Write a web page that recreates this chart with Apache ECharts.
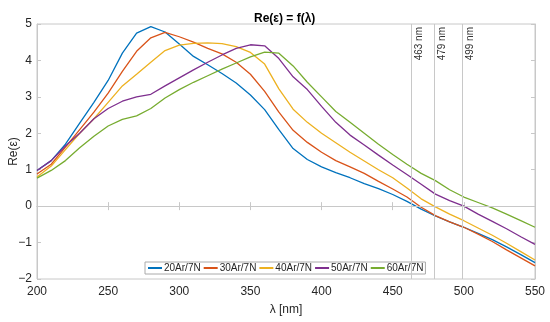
<!DOCTYPE html>
<html>
<head>
<meta charset="utf-8">
<script src="https://cdn.jsdelivr.net/npm/echarts@6/dist/echarts.min.js"></script>
<style>
html,body{margin:0;padding:0;background:#fff;}
#c{width:550px;height:322px;}
</style>
</head>
<body>
<div id="c"></div>
<script>
const wavelengths = [200,210,220,230,240,250,260,270,280,290,300,310,320,330,340,350,360,370,380,390,400,410,420,430,440,450,460,470,480,490,500,510,520,530,540,550];
const seriesNames = ['20Ar/7N','30Ar/7N','40Ar/7N','50Ar/7N','60Ar/7N'];
const ar20 = [0.98,1.25,1.7,2.28,2.85,3.45,4.2,4.75,4.93,4.78,4.45,4.11,3.88,3.64,3.38,3.05,2.65,2.1,1.58,1.28,1.08,0.92,0.78,0.62,0.48,0.32,0.13,-0.08,-0.27,-0.43,-0.58,-0.75,-0.92,-1.12,-1.33,-1.55];
const ar30 = [0.88,1.15,1.62,2.1,2.58,3.1,3.7,4.25,4.62,4.77,4.65,4.5,4.33,4.18,3.95,3.62,3.15,2.58,2.08,1.75,1.48,1.25,1.08,0.9,0.68,0.47,0.25,-0.03,-0.26,-0.43,-0.58,-0.77,-0.97,-1.2,-1.42,-1.64];
const ar40 = [0.8,1.1,1.55,2.0,2.4,2.85,3.3,3.62,3.95,4.27,4.42,4.47,4.48,4.46,4.38,4.22,3.9,3.22,2.66,2.3,2.0,1.74,1.48,1.24,1.0,0.78,0.5,0.2,-0.02,-0.22,-0.4,-0.6,-0.8,-1.02,-1.25,-1.48];
const ar50 = [0.98,1.25,1.65,2.0,2.4,2.68,2.88,3.0,3.07,3.3,3.52,3.74,3.95,4.15,4.33,4.43,4.4,4.05,3.55,3.2,2.74,2.3,1.95,1.68,1.4,1.13,0.87,0.6,0.33,0.15,0.0,-0.22,-0.42,-0.62,-0.84,-1.05];
const ar60 = [0.77,0.98,1.25,1.6,1.92,2.2,2.38,2.48,2.68,2.97,3.2,3.4,3.58,3.76,3.93,4.1,4.23,4.2,3.85,3.4,3.0,2.6,2.3,2.0,1.7,1.42,1.15,0.9,0.7,0.45,0.25,0.1,-0.05,-0.22,-0.4,-0.58];
const markers = [463,479,499];
const markerLabels = ['463 nm','479 nm','499 nm'];
const xTicks = [200,250,300,350,400,450,500,550];
const yTicks = [-2,-1,0,1,2,3,4,5];

const colors = ['#0072BD','#D95319','#EDB120','#7E2F8E','#77AC30'];
const allData = [ar20, ar30, ar40, ar50, ar60];
const fmt = v => String(v).replace('-', '\u2212');
const font = 'Liberation Sans, Arial, sans-serif';

const chart = echarts.init(document.getElementById('c'), null, {renderer:'canvas'});

const series = allData.map((arr, i) => ({
  name: seriesNames[i],
  type: 'line',
  data: wavelengths.map((w, j) => [w, arr[j]]),
  symbol: 'none',
  lineStyle: {width: 1.3, color: colors[i]},
  itemStyle: {color: colors[i]},
  z: 3,
  animation: false
}));

series.push({
  type: 'line',
  data: [],
  silent: true,
  markLine: {
    silent: true,
    symbol: 'none',
    animation: false,
    lineStyle: {color: '#c8c8c8', type: 'solid', width: 1},
    data: [
      {yAxis: 0, label: {show: false}},
      ...markers.map((m, i) => ({
        xAxis: m,
        label: {
          show: true,
          formatter: markerLabels[i],
          position: 'insideEndBottom',
          color: '#333',
          fontSize: 10,
          fontFamily: font,
          distance: 3
        }
      }))
    ]
  },
  z: 1
});

chart.setOption({
  animation: false,
  color: colors,
  title: {
    text: 'Re(\u03B5) = f(\u03BB)',
    left: 249,
    top: 8,
    textStyle: {fontSize: 12, fontWeight: 'bold', color: '#000', fontFamily: font}
  },
  grid: {left: 37, right: 15, top: 24, bottom: 43, show: true, borderColor: '#c8c8c8', borderWidth: 1, outerBoundsMode: 'none', containLabel: false},
  legend: {
    data: seriesNames,
    left: 145,
    top: 262,
    orient: 'horizontal',
    itemWidth: 14,
    itemHeight: 2,
    itemGap: 2,
    padding: [1, 2, 1, 2],
    borderColor: '#aaaaaa',
    borderWidth: 1,
    backgroundColor: '#fff',
    textStyle: {fontSize: 10, color: '#262626', fontFamily: font, padding: [0,0,0,-3]}
  },
  xAxis: [{
    type: 'value', min: 200, max: 550, interval: 50,
    name: '\u03BB [nm]', nameLocation: 'middle', nameGap: 25, nameMoveOverlap: false,
    nameTextStyle: {fontSize: 12, color: '#262626', fontFamily: font},
    axisLine: {show: true, lineStyle: {color: '#c8c8c8'}},
    axisTick: {show: true, inside: true, length: 4, lineStyle: {color: '#c8c8c8'}},
    axisLabel: {fontSize: 12, color: '#262626', fontFamily: font, margin: 7, formatter: fmt},
    splitLine: {show: false}
  }, {
    type: 'value', min: 200, max: 550, interval: 50, position: 'top',
    axisLine: {show: true, lineStyle: {color: '#c8c8c8'}},
    axisTick: {show: true, inside: true, length: 4, lineStyle: {color: '#c8c8c8'}},
    axisLabel: {show: false}, splitLine: {show: false}
  }],
  yAxis: [{
    type: 'value', min: -2, max: 5, interval: 1,
    name: 'Re(\u03B5)', nameLocation: 'middle', nameGap: 17, nameRotate: 90, nameMoveOverlap: false,
    nameTextStyle: {fontSize: 12, color: '#262626', fontFamily: font},
    axisLine: {show: true, lineStyle: {color: '#c8c8c8'}},
    axisTick: {show: true, inside: true, length: 4, lineStyle: {color: '#c8c8c8'}},
    axisLabel: {fontSize: 12, color: '#262626', fontFamily: font, margin: 5, formatter: fmt},
    splitLine: {show: false}
  }, {
    type: 'value', min: -2, max: 5, interval: 1, position: 'right',
    axisLine: {show: true, lineStyle: {color: '#c8c8c8'}},
    axisTick: {show: true, inside: true, length: 4, lineStyle: {color: '#c8c8c8'}},
    axisLabel: {show: false}, splitLine: {show: false}
  }],
  series: series
});
</script>
</body>
</html>
